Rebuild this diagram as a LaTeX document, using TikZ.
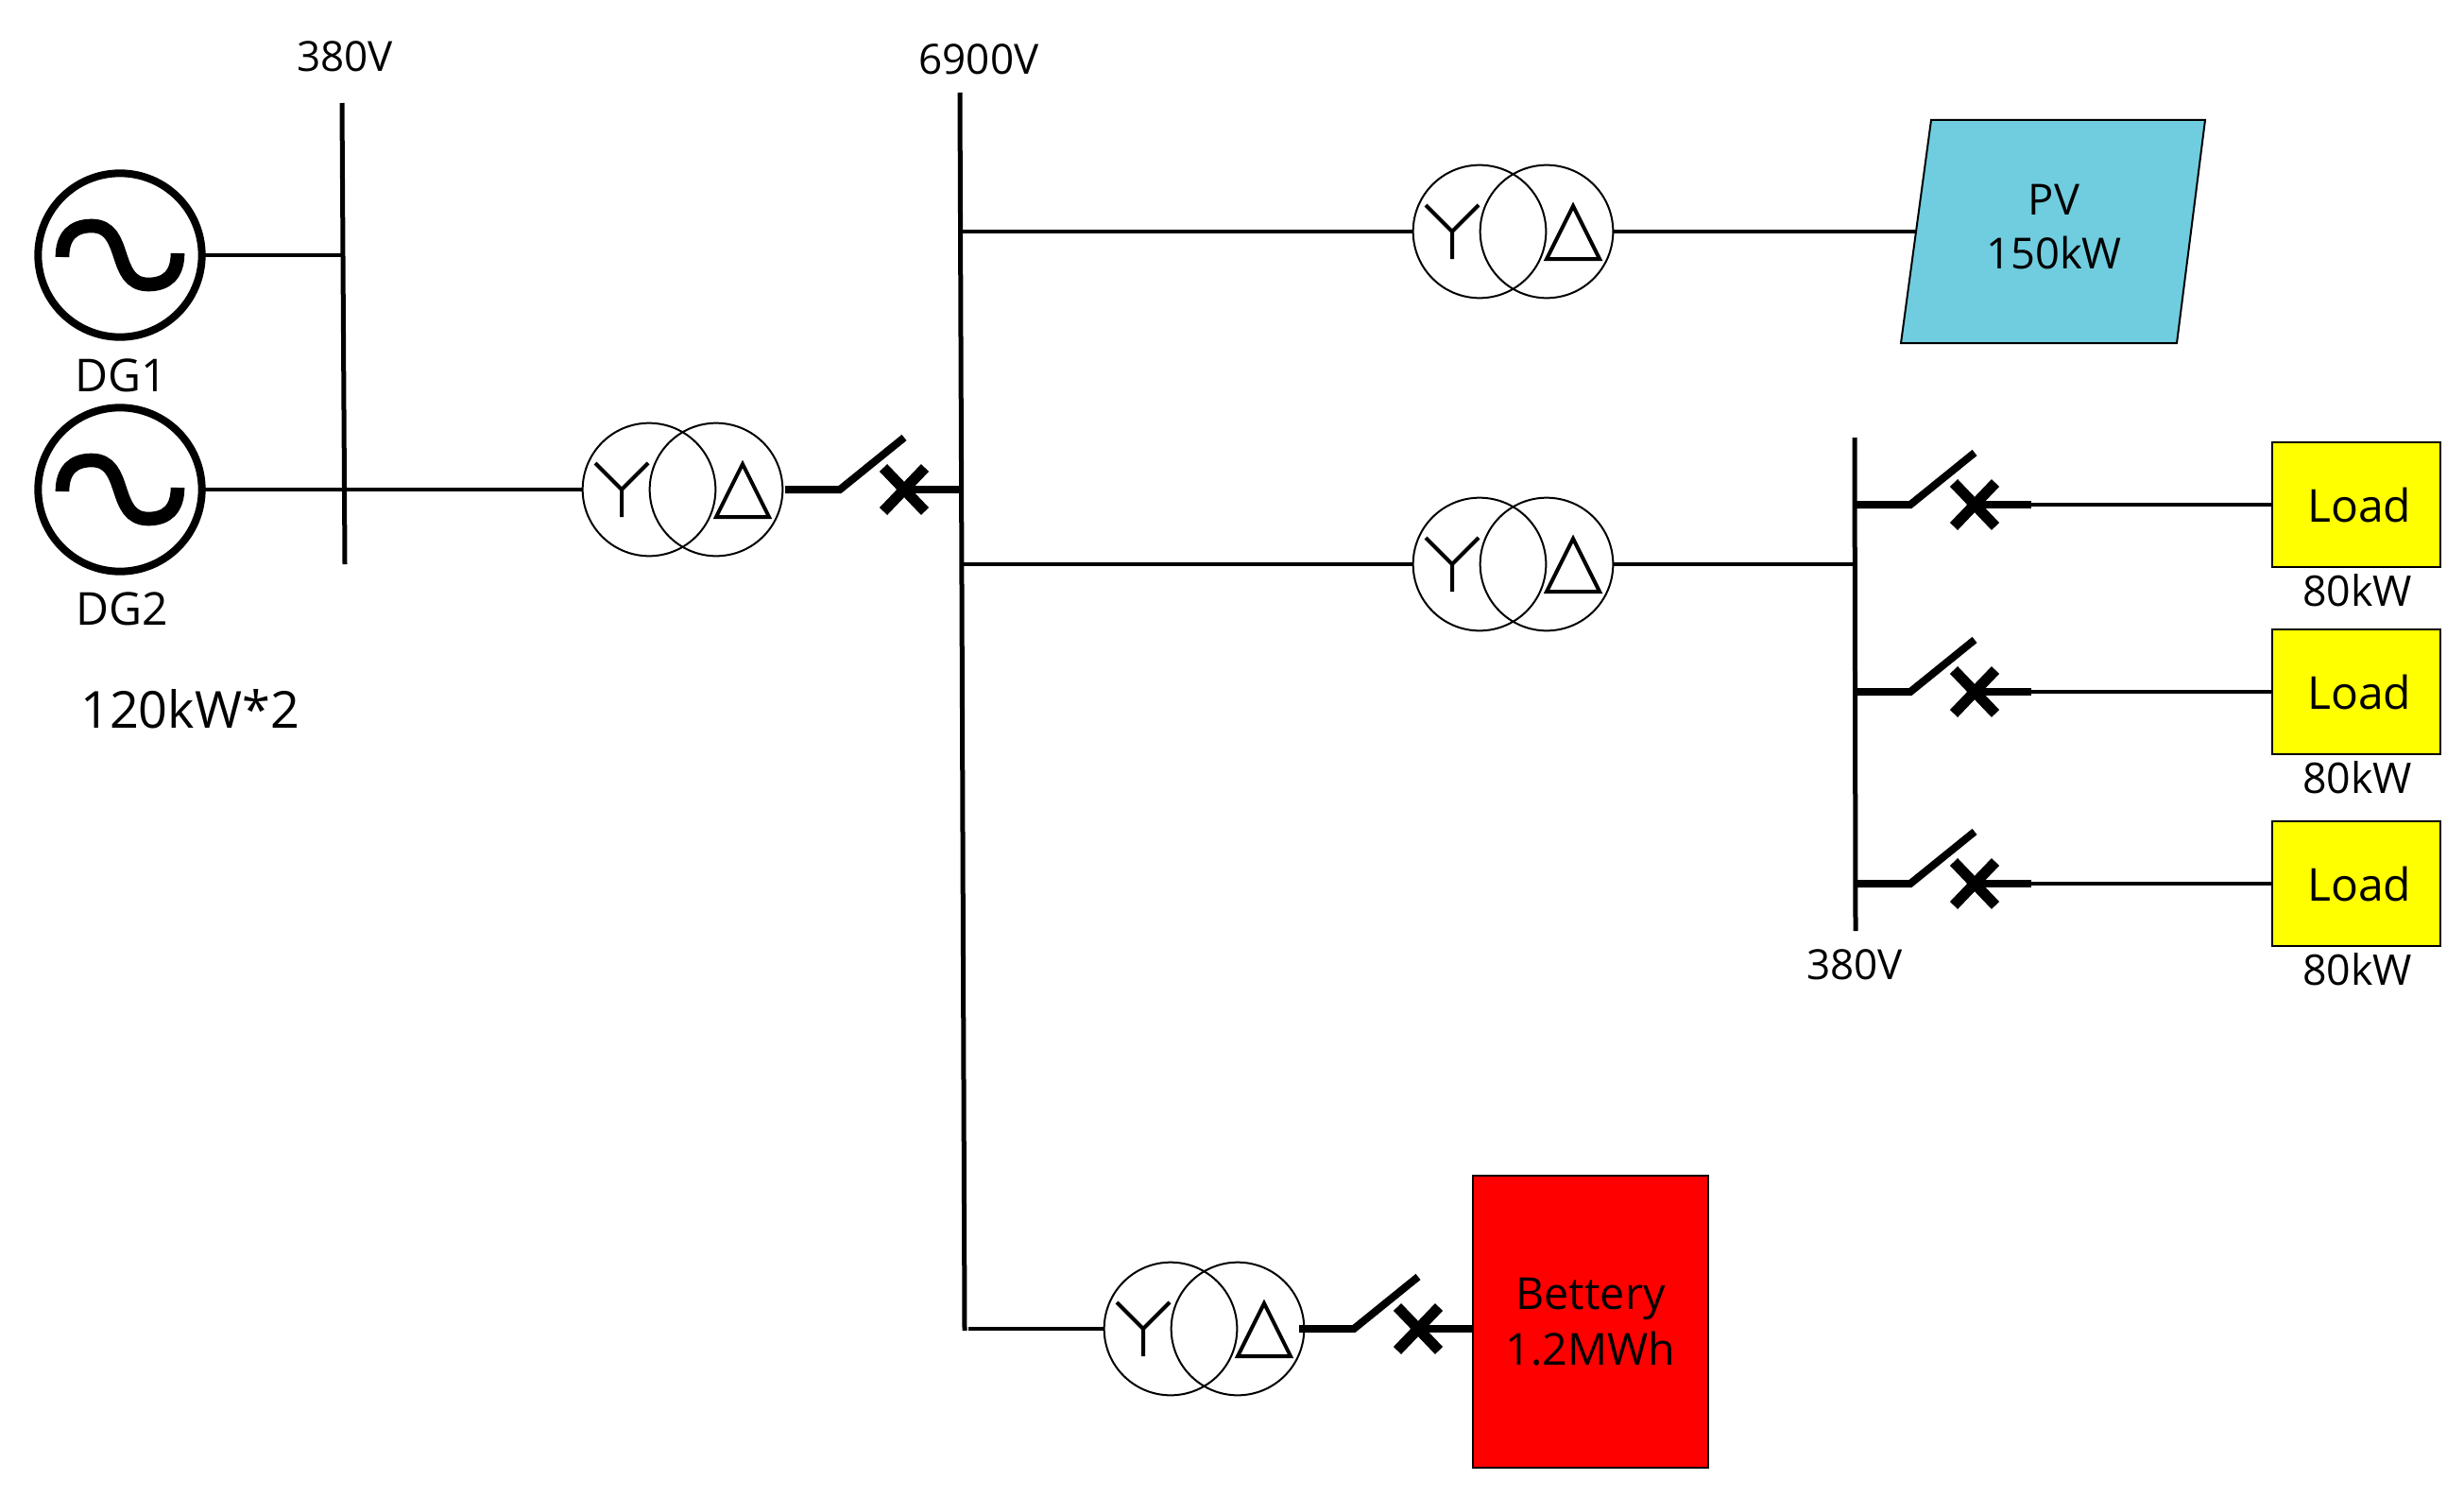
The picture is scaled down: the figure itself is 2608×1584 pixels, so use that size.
\documentclass[tikz,border=0pt]{standalone}
\usepackage{fontspec}
\setmainfont{Open Sans}
\usetikzlibrary{positioning}
\definecolor{pvblue}{HTML}{70CDDF}
\definecolor{loadyellow}{HTML}{FFFF00}
\definecolor{batred}{HTML}{FF0000}
\tikzstyle{generator}=[circle,draw,line width=6pt,minimum size=130pt,inner sep=0pt,outer sep=0pt]
\tikzstyle{winding}=[circle,draw,line width=1.5pt,minimum size=105.5pt,inner sep=0pt,outer sep=0pt]
\tikzstyle{symbol}=[line width=3pt,line join=miter]
\tikzstyle{wave}=[line width=11pt]
\tikzstyle{bus}=[draw,line width=3.75pt]
\tikzstyle{edge}=[draw,line width=3.6pt]
\tikzstyle{breaker}=[draw,line width=6pt,line join=miter]
\tikzstyle{cross}=[draw,line width=8.5pt]
\tikzstyle{weight}=[font=\fontsize{33}{43}\selectfont,align=center,inner sep=0pt]
\tikzstyle{load}=[rectangle,draw,line width=1.5pt,fill=loadyellow,minimum width=133.5pt,minimum height=99pt,inner sep=0pt,outer sep=0pt,font=\fontsize{36}{43}\selectfont]
\tikzstyle{battery}=[rectangle,draw,line width=1.5pt,fill=batred,minimum width=187pt,minimum height=232pt,inner sep=0pt,outer sep=0pt,align=center,font=\fontsize{35}{44}\selectfont]
\tikzstyle{pvpanel}=[draw,line width=1.5pt,fill=pvblue]
\begin{document}
\begin{tikzpicture}[x=0.75pt,y=-0.75pt]
\useasboundingbox (0,0) rectangle (2608,1584);

% First we draw the generators
\foreach \posx / \posy / \name in {127/270/dga,
127/518/dgb}
{
\begin{scope}[shift={(\posx,\posy)}]
\node[generator] (\name) at (0,0) {};
\draw[wave] (-61,2) .. controls (-61,-20) and (-50,-31) .. (-30,-31) .. controls (-10,-31) and (-5,-15) .. (0,0) .. controls (5,15) and (10,31) .. (30,31) .. controls (50,31) and (61,20) .. (61,-2);
\end{scope}
}

% Then the transformers
\foreach \posx / \posy / \name in {687/518/ta,
1566/245/tb,
1566/597/tc,
1239/1406/td}
{
\begin{scope}[shift={(\posx,\posy)}]
\node[winding] (\name y) at (0,0) {};
\node[winding] (\name d) at (71,0) {};
\draw[symbol] (-57,-28) -- (-29,0) -- (-1,-28) (-29,0) -- (-29,29);
\draw[symbol] (99,-27) -- (71,29) -- (127,29) -- cycle;
\end{scope}
}

% Breakers, each with its thick tail
\foreach \posx / \posy / \name in {831/518/ba,
1964/534/bb,
1964/732/bc,
1964/935/bd,
1375/1406/be}
{
\begin{scope}[shift={(\posx,\posy)}]
\coordinate (\name in) at (0,0);
\coordinate (\name hinge) at (58,0);
\coordinate (\name tip) at (126,-55);
\coordinate (\name x) at (126,0);
\coordinate (\name out) at (186,0);
\draw[cross] (104,-23) -- (148,23) (148,-23) -- (104,23);
\path[breaker] (\name in) -- (\name hinge) -- (\name tip);
\path[breaker] (\name x) -- (\name out);
\end{scope}
}

% Bus bars
\coordinate (busa top) at (362,109);
\coordinate (busa end) at (365,597);
\coordinate (busb top) at (1016,98);
\coordinate (busb end) at (1021,1408);
\coordinate (busc top) at (1963,463);
\coordinate (busc end) at (1964,985);
\foreach \source / \dest in {busa top/busa end,busb top/busb end,busc top/busc end}
\path[bus] (\source) -- (\dest);

\coordinate (tapa) at (363,270);
\coordinate (tapb) at (1018,245);
\coordinate (tapc) at (1018,597);
\coordinate (tapd) at (1025,1406);
\coordinate (tape) at (1964,597);

% Boxes
\foreach \posy / \name in {534/loada,732/loadb,935/loadc}
{
\node[load] (\name) at (2494,\posy) {\hspace{5pt}Load};
\node[weight,font=\fontsize{33.5}{43}\selectfont] (\name kw) at (2495,\posy+91) {80kW};
}
\node[battery] (bat) at (1683.5,1398.5) {Bettery\\1.2MWh};
\path[pvpanel] (2044,127) -- (2334,127) -- (2304,363) -- (2012,363) -- cycle;
\coordinate (pvin) at (2029,245);
\node[weight,font=\fontsize{34}{43}\selectfont] (pv) at (2174,240) {PV\\150kW};

% Connect everything
\path[edge] (dga) -- (tapa);
\path[edge] (dgb) -- (tay);
\path[edge] (tapb) -- (tby);
\path[edge] (tbd) -- (pvin);
\path[edge] (tapc) -- (tcy);
\path[edge] (tcd) -- (tape);
\path[edge] (tapd) -- (tdy);
\foreach \source / \dest in {bbout/loada,bcout/loadb,bdout/loadc}
\path[edge] (\source) -- (\dest);

% Labels
\node[weight] (vola) at (365,60) {380V};
\node[weight] (volb) at (1036,63) {6900V};
\node[weight] (volc) at (1963,1021) {380V};
\node[weight,font=\fontsize{36}{43}\selectfont] (dgal) at (128,397) {DG1};
\node[weight,font=\fontsize{36}{43}\selectfont] (dgbl) at (129,644) {DG2};
\node[weight,font=\fontsize{40.5}{48}\selectfont] (dgkw) at (201,750) {120kW*2};

\end{tikzpicture}
\end{document}
